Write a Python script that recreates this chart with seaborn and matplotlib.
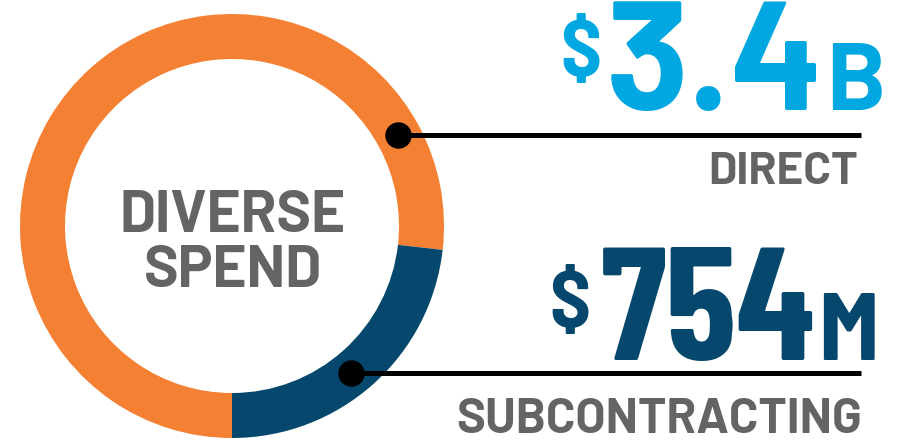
import numpy as np
import matplotlib
matplotlib.use("Agg")
import matplotlib.pyplot as plt
import seaborn as sns

# shares of the ring, as drawn in the picture
segments = ["Direct", "Subcontracting"]
ring_share = [76.8, 23.2]
amounts = ["3.4", "754"]
units = ["B", "M"]
labels = ["DIRECT", "SUBCONTRACTING"]
centre_title = ["DIVERSE", "SPEND"]

sns.set_style("white")
plt.rcParams['font.family'] = ['Barlow', 'Barlow Semi Condensed', 'Roboto', 'DejaVu Sans']
semi = ['Barlow Semi Condensed', 'Roboto Condensed', 'DejaVu Sans']
narrow = ['Barlow Condensed', 'Roboto Condensed', 'DejaVu Sans']

orange = "#F48033"
navy = "#05476D"
sky = "#00A7E1"
grey = "#636466"
ring_colors = [orange, navy]

fig = plt.figure(figsize=(9.09, 4.47), dpi=100)
ax = fig.add_axes([0, 0, 1, 1])

cx, cy, r_out, ring_w = 232, 226, 212, 45
ax.pie(ring_share, colors=ring_colors, startangle=90, counterclock=True,
       center=(cx, cy), radius=r_out,
       wedgeprops=dict(width=ring_w, edgecolor="none"))
ax.set_xlim(0, 909)
ax.set_ylim(447, 0)
ax.set_aspect("equal")
ax.axis("off")

# centre title
ax.text(cx + 1, 232, centre_title[0], ha="center", va="baseline",
        fontsize=42, fontweight="bold", color=grey)
ax.text(cx + 1, 287, centre_title[1], ha="center", va="baseline",
        fontsize=42, fontweight="bold", color=grey)

# leader dots and lines
r_mid = r_out - ring_w / 2
for ang in [-28.8, 51]:
    a = np.deg2rad(ang)
    px, py = cx + r_mid * np.cos(a), cy + r_mid * np.sin(a)
    ax.plot([px, 861], [py, py], color="black", lw=3.6, solid_capstyle="butt")
    ax.plot(px, py, "o", color="black", ms=18)

# big figures
ax.text(601, 76, "$", ha="right", va="baseline", fontsize=58,
        fontweight="bold", color=sky, family=semi)
ax.text(824, 110, amounts[0], ha="right", va="baseline", fontsize=111,
        fontweight="bold", color=sky)
ax.text(886, 110, units[0], ha="right", va="baseline", fontsize=69,
        fontweight="bold", color=sky)
ax.text(858, 184, labels[0], ha="right", va="baseline", fontsize=33,
        fontweight="bold", color=grey)

ax.text(590, 327, "$", ha="right", va="baseline", fontsize=58,
        fontweight="bold", color=navy, family=semi)
ax.text(815, 360, amounts[1], ha="right", va="baseline", fontsize=116,
        fontweight="bold", color=navy, family=narrow)
ax.text(879, 360, units[1], ha="right", va="baseline", fontsize=69,
        fontweight="bold", color=navy, family=semi)
ax.text(862, 433, labels[1], ha="right", va="baseline", fontsize=35,
        fontweight="bold", color=grey)

fig.savefig("out.png", dpi=100)
